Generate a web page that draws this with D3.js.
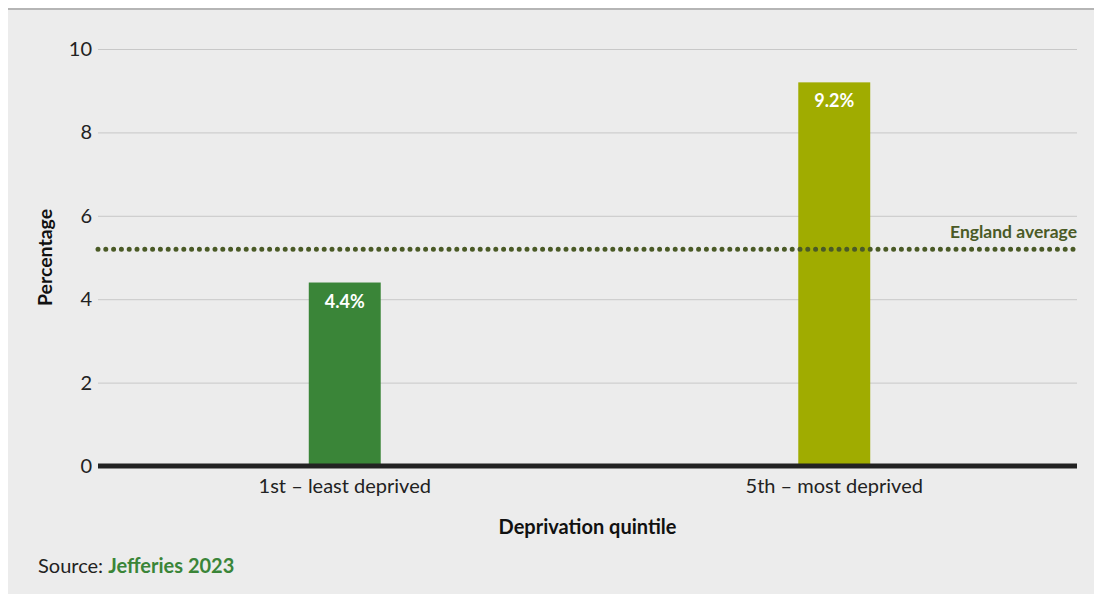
<!DOCTYPE html>
<html>
<head>
<meta charset="utf-8">
<script src="https://cdn.jsdelivr.net/npm/d3@7"></script>
<style>
  body { margin: 0; background: #fff; font-family: Lato, sans-serif; }
</style>
</head>
<body>
<div id="viz"></div>
<script>
const categories = ['1st – least deprived', '5th – most deprived']
const values = [4.4, 9.2]
const barColors = ['#3a8538', '#a0ac00']
const yTicks = [0, 2, 4, 6, 8, 10]
const englandAverage = 5.2

let dimensions = {
  width: 1094,
  height: 594,
  margin: { top: 49, right: 17, bottom: 128, left: 98 },
}
dimensions.boundedWidth = dimensions.width - dimensions.margin.left - dimensions.margin.right
dimensions.boundedHeight = dimensions.height - dimensions.margin.top - dimensions.margin.bottom

const wrapper = d3.select('#viz')
  .append('svg')
  .attr('width', dimensions.width)
  .attr('height', dimensions.height)

// panel background + top rule
wrapper.append('rect')
  .attr('x', 8).attr('y', 10)
  .attr('width', dimensions.width - 8).attr('height', dimensions.height - 10)
  .attr('fill', '#ececec')
wrapper.append('rect')
  .attr('x', 8).attr('y', 8)
  .attr('width', dimensions.width - 8).attr('height', 2)
  .attr('fill', '#b5b5b5')

const chart = wrapper.append('g')
  .attr('transform', `translate(${dimensions.margin.left},${dimensions.margin.top})`)

// bars centred on the quarter points of the plot
const xScale = d3.scaleBand()
  .domain(categories)
  .range([2, dimensions.boundedWidth + 2])
  .paddingInner(0.853)
  .paddingOuter(0.4265)

const yScale = d3.scaleLinear()
  .domain([0, 10])
  .range([dimensions.boundedHeight, 0])

// gridlines
const yAxis = chart.append('g')
  .call(d3.axisLeft(yScale).tickValues(yTicks).tickSize(-dimensions.boundedWidth).tickPadding(6))
yAxis.select('.domain').remove()
yAxis.selectAll('.tick line').attr('stroke', '#c8c8c8').attr('stroke-width', 1)
yAxis.selectAll('.tick text')
  .attr('font-family', 'Lato, sans-serif')
  .attr('font-size', 20)
  .attr('fill', '#222')

// bars
chart.selectAll('rect.bar')
  .data(values)
  .join('rect')
  .attr('class', 'bar')
  .attr('x', (d, i) => xScale(categories[i]))
  .attr('y', d => yScale(d))
  .attr('width', xScale.bandwidth())
  .attr('height', d => dimensions.boundedHeight - yScale(d))
  .attr('fill', (d, i) => barColors[i])

chart.selectAll('text.barlabel')
  .data(values)
  .join('text')
  .attr('class', 'barlabel')
  .attr('x', (d, i) => xScale(categories[i]) + xScale.bandwidth() / 2)
  .attr('y', d => yScale(d) + 25)
  .attr('text-anchor', 'middle')
  .attr('font-size', 18)
  .attr('font-weight', 'bold')
  .attr('fill', '#fff')
  .text(d => d.toFixed(1) + '%')

// baseline
chart.append('line')
  .attr('x1', 0).attr('x2', dimensions.boundedWidth)
  .attr('y1', yScale(0)).attr('y2', yScale(0))
  .attr('stroke', '#222').attr('stroke-width', 5)

// x axis labels
const xAxis = chart.append('g')
  .attr('transform', `translate(0,${dimensions.boundedHeight})`)
  .call(d3.axisBottom(xScale).tickSize(0).tickPadding(13))
xAxis.select('.domain').remove()
xAxis.selectAll('.tick text')
  .attr('font-family', 'Lato, sans-serif')
  .attr('font-size', 20)
  .attr('fill', '#222')

// England average line
chart.append('line')
  .attr('x1', 0).attr('x2', dimensions.boundedWidth)
  .attr('y1', yScale(englandAverage)).attr('y2', yScale(englandAverage))
  .attr('stroke', '#4a5a26')
  .attr('stroke-width', 5)
  .attr('stroke-linecap', 'round')
  .attr('stroke-dasharray', '0 7.8')

chart.append('text')
  .attr('x', dimensions.boundedWidth)
  .attr('y', yScale(englandAverage) - 11)
  .attr('text-anchor', 'end')
  .attr('font-size', 17.5)
  .attr('font-weight', 'bold')
  .attr('fill', '#4a5a26')
  .text('England average')

// axis titles
chart.append('text')
  .attr('x', dimensions.boundedWidth / 2)
  .attr('y', dimensions.boundedHeight + 68)
  .attr('text-anchor', 'middle')
  .attr('font-size', 20)
  .attr('font-weight', 'bold')
  .attr('fill', '#111')
  .text('Deprivation quintile')

chart.append('text')
  .attr('transform', `translate(-46,${dimensions.boundedHeight / 2}) rotate(-90)`)
  .attr('text-anchor', 'middle')
  .attr('font-size', 19.5)
  .attr('font-weight', 'bold')
  .attr('fill', '#111')
  .text('Percentage')

// source
const source = wrapper.append('text')
  .attr('x', 38)
  .attr('y', 573)
  .attr('font-size', 20)
  .attr('fill', '#222')
source.append('tspan').text('Source: ')
source.append('tspan').attr('fill', '#3a8538').attr('font-weight', 'bold').text('Jefferies 2023')
</script>
</body>
</html>
